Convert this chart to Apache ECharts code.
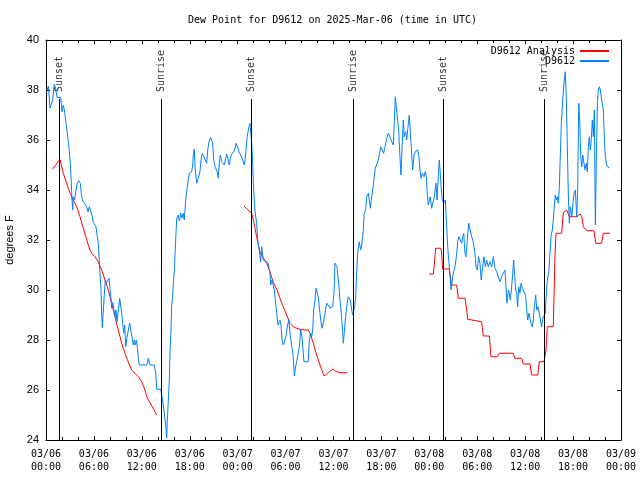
<!DOCTYPE html>
<html><head><meta charset="utf-8">
<script src="https://cdn.jsdelivr.net/npm/echarts@6/dist/echarts.min.js"></script>
<style>html,body{margin:0;padding:0;background:#fff}#c{width:640px;height:480px}</style>
</head><body><div id="c"></div>
<script>
// Time origin: 2025-03-06 00:00 UTC; times below are hours after it
const START = Date.UTC(2025, 2, 6, 0, 0);
const END = Date.UTC(2025, 2, 9, 0, 0);
const HOUR = 3600000;

const titleText = 'Dew Point for D9612 on 2025-Mar-06 (time in UTC)';
const yName = 'degrees F';
const obsName = 'D9612';
const anaName = 'D9612 Analysis';

const obsHours = [
0.13,0.29,0.50,0.71,0.84,1.04,1.25,1.38,1.84,2.00,2.17,2.34,2.50,2.67,2.88,3.01,3.13,3.26,3.34,3.42,
3.59,3.72,3.92,4.09,4.29,4.42,4.55,4.72,4.88,5.10,5.26,5.42,5.51,5.63,5.80,5.92,6.14,6.26,6.42,6.55,
6.64,6.76,6.89,6.97,7.05,7.14,7.26,7.42,7.60,7.89,8.10,8.23,8.35,8.64,8.76,8.89,9.23,9.48,9.73,9.85,
9.98,10.14,10.48,10.64,10.93,11.06,11.18,11.31,11.43,11.56,11.68,12.61,12.81,13.02,13.56,13.74,13.86,14.36,14.49,14.69,
14.99,15.11,15.19,15.31,15.44,15.53,15.65,15.74,15.86,15.94,16.06,16.15,16.28,16.37,16.57,16.69,16.87,17.03,17.19,17.32,
17.49,17.69,17.87,17.94,18.24,18.37,18.44,18.57,18.66,18.87,19.07,19.28,19.41,19.57,19.78,19.95,20.12,20.25,20.41,20.62,
20.79,20.87,21.00,21.16,21.29,21.45,21.57,21.70,21.82,22.00,22.20,22.33,22.50,22.63,22.83,22.95,23.08,23.20,23.45,23.63,
23.79,24.00,24.17,24.38,24.54,24.70,24.83,24.95,25.04,25.17,25.33,25.46,25.54,25.67,25.76,25.88,25.96,26.08,26.20,26.38,
26.50,26.70,26.88,27.00,27.13,27.21,27.55,27.83,27.96,28.05,28.13,28.30,28.46,28.59,28.71,28.89,29.05,29.17,29.30,29.43,
29.55,29.71,29.89,30.05,30.21,30.39,30.55,30.76,30.96,31.09,31.26,31.39,31.59,31.72,31.89,32.05,32.22,32.30,32.84,32.97,
33.14,33.27,33.39,33.52,33.68,33.81,33.97,34.09,34.22,34.40,34.56,34.72,34.90,35.06,35.18,35.40,35.56,35.77,35.90,36.06,
36.19,36.31,36.44,36.56,36.69,36.81,36.94,37.10,37.23,37.35,37.48,37.65,37.85,37.98,38.10,38.28,38.40,38.53,38.65,38.78,
38.90,39.03,39.23,39.40,39.53,39.73,39.85,40.03,40.16,40.36,40.48,40.61,40.78,40.91,41.11,41.23,41.41,41.54,41.74,41.91,
42.11,42.28,42.45,42.66,42.86,43.07,43.29,43.49,43.61,43.74,43.86,43.99,44.16,44.32,44.45,44.57,44.74,44.86,45.04,45.16,
45.33,45.49,45.61,45.74,45.91,46.08,46.24,46.41,46.54,46.70,46.83,46.95,47.12,47.33,47.49,47.62,47.74,47.87,47.99,48.12,
48.29,48.42,48.62,48.83,48.96,49.12,49.25,49.37,49.50,49.62,49.83,50.00,50.17,50.30,50.46,50.59,50.71,50.88,51.00,51.22,
51.43,51.55,51.71,51.88,52.05,52.18,52.31,52.46,52.59,52.75,52.93,53.09,53.30,53.50,53.71,53.84,54.00,54.17,54.34,54.50,
54.68,54.84,55.01,55.18,55.38,55.59,55.81,56.01,56.22,56.43,56.63,56.85,57.06,57.26,57.47,57.60,57.72,57.89,58.01,58.14,
58.31,58.44,58.56,58.69,58.81,58.94,59.06,59.19,59.35,59.48,59.64,59.77,59.94,60.07,60.19,60.32,60.48,60.61,60.73,60.90,
61.02,61.15,61.32,61.45,61.61,61.77,61.95,62.07,62.20,62.36,62.52,62.65,62.77,62.95,63.11,63.23,63.40,63.52,63.65,63.77,
63.90,64.03,64.15,64.28,64.40,64.53,64.70,64.86,65.02,65.15,65.28,65.40,65.53,65.65,65.83,65.99,66.11,66.28,66.46,66.58,
66.71,66.83,66.96,67.08,67.21,67.37,67.49,67.66,67.79,67.91,68.04,68.16,68.29,68.41,68.54,68.66,68.79,68.91,69.04,69.16,
69.29,69.41,69.58,69.79,69.91,70.04,70.21,70.37,70.53
];
const obsDewF = [
38.0,38.15,37.28,37.3,37.6,38.24,38.0,37.7,37.7,37.13,37.4,37.1,36.68,36.27,35.67,35.2,34.53,33.6,33.2,33.73,
33.6,33.93,34.27,34.37,34.27,33.87,33.6,33.53,33.44,33.33,33.13,33.33,33.4,33.13,32.93,32.7,32.67,32.53,32.13,31.87,
31.33,30.67,30.0,29.07,28.5,29.0,29.6,30.4,30.3,30.47,29.8,29.27,29.5,28.93,29.2,28.73,29.67,29.07,28.27,28.6,
27.73,28.1,28.67,28.6,27.8,28.0,27.8,28.0,27.73,27.27,27.0,27.0,27.27,27.0,27.0,26.67,26.03,26.03,26.0,25.4,
24.6,24.08,24.8,25.53,26.4,27.47,28.4,29.4,29.73,30.27,30.73,31.4,32.27,32.87,33.0,32.77,33.07,32.87,33.07,32.8,
33.6,34.13,34.2,34.67,34.73,35.0,35.4,35.63,34.93,34.27,34.47,34.73,35.2,35.47,35.4,35.2,35.07,35.6,35.93,36.1,
36.16,35.87,35.2,34.93,34.96,34.73,34.47,35.07,35.4,35.13,35.2,35.0,35.27,35.44,35.44,35.0,35.27,35.4,35.4,35.6,
35.87,35.73,35.53,35.4,35.27,35.13,35.0,35.27,35.6,36.07,36.4,36.47,36.67,36.73,35.87,35.07,34.27,33.6,33.07,32.67,
32.0,31.6,31.13,31.73,31.4,31.2,31.13,31.07,30.8,30.67,30.2,30.4,30.33,30.0,29.6,29.07,28.6,28.7,28.8,28.6,
28.0,27.8,27.8,28.13,28.53,28.8,28.27,27.8,27.33,26.56,26.93,27.13,27.13,27.73,28.4,28.13,27.47,27.13,27.13,28.0,
28.27,28.13,28.4,29.2,29.6,30.07,30.13,29.73,29.33,28.8,28.47,28.67,29.0,29.33,29.47,29.47,29.27,29.2,29.33,29.87,
31.07,31.13,30.93,30.53,30.13,29.6,29.2,28.53,27.87,28.3,28.8,29.33,29.73,29.8,29.6,29.2,29.0,29.05,29.33,29.73,
30.67,31.47,31.93,31.6,31.8,32.4,33.07,33.2,33.73,33.87,33.6,33.27,33.73,34.0,34.53,34.87,34.93,35.13,35.4,35.73,
35.6,35.47,35.73,36.07,36.27,36.13,35.93,35.8,36.67,37.73,37.33,36.93,36.4,35.33,34.6,35.6,36.8,36.13,36.33,36.0,
36.53,37.0,36.4,35.73,34.8,35.4,35.53,35.53,35.6,35.33,34.8,34.47,34.67,34.53,34.73,34.53,33.87,33.4,33.33,33.73,
33.27,33.2,33.73,34.27,33.6,34.53,35.2,34.67,34.0,33.6,33.47,33.6,32.53,31.73,31.07,30.6,30.0,30.4,30.67,30.93,
31.47,31.93,32.13,32.07,31.87,32.13,32.27,31.47,31.33,32.0,32.67,32.6,32.13,31.93,31.47,30.93,30.8,31.33,31.07,30.4,
30.93,31.33,30.93,31.2,30.93,31.13,30.93,31.33,30.87,30.73,30.67,30.33,30.53,30.67,30.8,30.13,29.47,30.0,29.87,29.6,
30.13,30.67,31.2,30.53,30.0,29.87,29.33,30.13,29.87,30.27,30.07,30.13,29.87,29.73,29.2,28.8,29.07,28.87,28.67,28.53,
28.8,29.33,29.8,29.2,29.33,29.33,28.73,28.53,28.87,28.87,29.07,29.87,30.4,30.67,31.47,32.13,32.4,32.8,33.33,33.8,
33.6,33.73,33.47,34.13,35.4,36.67,37.6,38.27,38.73,37.73,35.73,33.87,32.67,33.33,32.93,33.47,33.87,34.0,32.93,34.13,
37.47,36.8,35.33,34.93,35.4,35.4,34.8,35.07,34.73,35.73,36.13,35.6,36.07,36.8,36.13,37.2,32.6,35.2,37.47,38.0,
38.13,38.0,37.6,37.2,36.13,35.33,35.0,34.97,34.87
];

// Analysis: three separate segments
const anaSeg1Hours = [0.79,1.75,2.17,2.59,3.01,3.42,3.84,4.26,4.67,5.10,5.51,5.80,6.14,6.55,6.97,7.39,7.80,8.23,8.64,9.05,9.48,9.89,10.30,10.73,11.14,11.56,11.98,12.40,12.61,13.02,13.44,13.86];
const anaSeg1DewF  = [34.83,35.23,34.67,34.27,33.87,33.6,33.33,32.93,32.47,32.0,31.6,31.44,31.33,31.13,30.8,30.4,30.0,29.47,28.93,28.4,27.87,27.47,27.13,26.8,26.67,26.53,26.33,26.0,25.73,25.5,25.25,25.0];
const anaSeg2Hours = [24.79,25.29,25.76,25.96,26.17,26.38,26.58,26.79,27.13,27.63,28.05,28.46,28.89,29.30,29.71,30.14,30.55,30.96,31.39,31.80,32.43,32.84,33.06,33.47,33.89,34.31,34.81,35.35,35.90,36.40,36.81,37.73];
const anaSeg2DewF  = [33.36,33.2,33.07,32.8,32.47,32.13,31.8,31.53,31.33,31.07,30.73,30.3,30.03,29.67,29.33,29.0,28.67,28.53,28.47,28.43,28.4,28.4,28.27,27.87,27.4,27.0,26.56,26.69,26.83,26.73,26.69,26.69];
const anaSeg3Hours = [47.99,48.49,48.62,48.79,49.46,49.58,49.67,50.50,50.59,50.80,51.43,51.63,52.47,52.68,52.80,54.55,54.76,55.51,55.72,56.51,56.76,58.51,58.72,59.56,59.76,60.60,60.81,61.57,61.77,62.36,62.61,62.77,63.52,63.73,63.86,64.57,64.77,65.20,65.53,66.46,66.87,67.08,67.29,67.71,68.62,68.83,69.58,69.79,70.62];
const anaSeg3DewF  = [30.64,30.64,31.0,31.67,31.67,31.3,30.84,30.84,30.6,30.2,30.2,29.67,29.67,29.2,28.83,28.73,28.16,28.16,27.33,27.33,27.47,27.47,27.27,27.27,27.04,27.04,26.6,26.6,27.13,27.13,27.6,28.53,28.53,31.33,32.27,32.27,33.09,33.2,32.93,32.93,33.04,32.93,32.53,32.37,32.37,31.87,31.87,32.27,32.27];

const sunNames = ['Sunset','Sunrise','Sunset','Sunrise','Sunset','Sunrise'];
const sunHours = [1.67,14.49,25.72,38.50,49.80,62.36];
const sunLineTopF = 37.64;

const yMin = 24, yMax = 40, yStep = 2;
const xStepHours = 6;

const toT = h => START + h * HOUR;
const seg = (hs, vs) => hs.map((h, i) => [toT(h), vs[i]]);
const anaData = [].concat(
  seg(anaSeg1Hours, anaSeg1DewF), [[toT(anaSeg1Hours[anaSeg1Hours.length-1]), null]],
  seg(anaSeg2Hours, anaSeg2DewF), [[toT(anaSeg2Hours[anaSeg2Hours.length-1]), null]],
  seg(anaSeg3Hours, anaSeg3DewF)
);
const obsData = seg(obsHours, obsDewF);

const mono = "'DejaVu Sans Mono', monospace";
const sans = "'Liberation Sans', Arial, sans-serif";
const pad = n => (n < 10 ? '0' : '') + n;
const fmtX = v => { const d = new Date(v); return pad(d.getUTCMonth()+1) + '/' + pad(d.getUTCDate()) + '\n' + pad(d.getUTCHours()) + ':' + pad(d.getUTCMinutes()); };

const chart = echarts.init(document.getElementById('c'), null, {renderer: 'canvas'});
const black = '#000';
const xCommon = {
  type: 'value', min: START, max: END, interval: xStepHours * HOUR,
  axisLine: {show: true, onZero: false, lineStyle: {color: black, width: 1}},
  axisTick: {show: true, inside: true, length: 4, lineStyle: {color: black}},
  minorTick: {show: true, splitNumber: 3, length: 3, lineStyle: {color: black}},
  splitLine: {show: false}, minorSplitLine: {show: false}
};
const yCommon = {
  type: 'value', min: yMin, max: yMax, interval: yStep,
  axisLine: {show: true, onZero: false, lineStyle: {color: black, width: 1}},
  axisTick: {show: true, inside: true, length: 4, lineStyle: {color: black}},
  splitLine: {show: false}
};
chart.setOption({
  animation: false,
  backgroundColor: '#fff',
  textStyle: {fontFamily: mono},
  title: {text: titleText, left: 188, top: 15, padding: 0,
    textStyle: {fontFamily: mono, fontSize: 10, fontWeight: 'normal', color: black}},
  legend: {orient: 'vertical', right: 30, top: 46, padding: 0, align: 'right',
    itemWidth: 29, itemHeight: 12, itemGap: 0,
    itemStyle: {opacity: 0},
    textStyle: {fontFamily: mono, fontSize: 10, color: black},
    data: [anaName, obsName]},
  grid: {left: 46, right: 19, top: 40, bottom: 40, containLabel: false, outerBoundsMode: 'none'},
  xAxis: [
    Object.assign({}, xCommon, {position: 'bottom',
      axisLabel: {formatter: fmtX, fontFamily: mono, fontSize: 10, color: black, lineHeight: 13, margin: 8}}),
    Object.assign({}, xCommon, {position: 'top', axisLabel: {show: false}})
  ],
  yAxis: [
    Object.assign({}, yCommon, {position: 'left',
      axisLabel: {fontFamily: sans, fontSize: 11, color: black, margin: 7},
      name: yName, nameLocation: 'middle', nameRotate: 90, nameGap: 29,
      nameTextStyle: {fontFamily: sans, fontSize: 11, color: black}}),
    Object.assign({}, yCommon, {position: 'right', axisLabel: {show: false}})
  ],
  series: [
    {
      name: 'sun', type: 'scatter', xAxisIndex: 0, yAxisIndex: 0, silent: true,
      symbolSize: 0, z: 1,
      data: sunHours.map(h => [toT(h), sunLineTopF]),
      label: {show: true, formatter: p => sunNames[p.dataIndex], position: 'top', distance: 7,
        rotate: 90, align: 'left', verticalAlign: 'middle',
        fontFamily: mono, fontSize: 10, color: black},
      markLine: {silent: true, symbol: ['none', 'none'], animation: false,
        label: {show: false}, emphasis: {disabled: true},
        lineStyle: {color: black, width: 1, type: 'solid'},
        data: sunHours.map(h => [{coord: [toT(h), yMin]}, {coord: [toT(h), sunLineTopF]}])}
    },
    {name: anaName, type: 'line', data: anaData, symbol: 'none', showSymbol: false,
      connectNulls: false, color: '#ff0000', lineStyle: {color: '#ff0000', width: 1}, z: 3},
    {name: obsName, type: 'line', data: obsData, symbol: 'none', showSymbol: false,
      color: '#0080ff', lineStyle: {color: '#0080ff', width: 1}, z: 4}
  ]
});
</script></body></html>
